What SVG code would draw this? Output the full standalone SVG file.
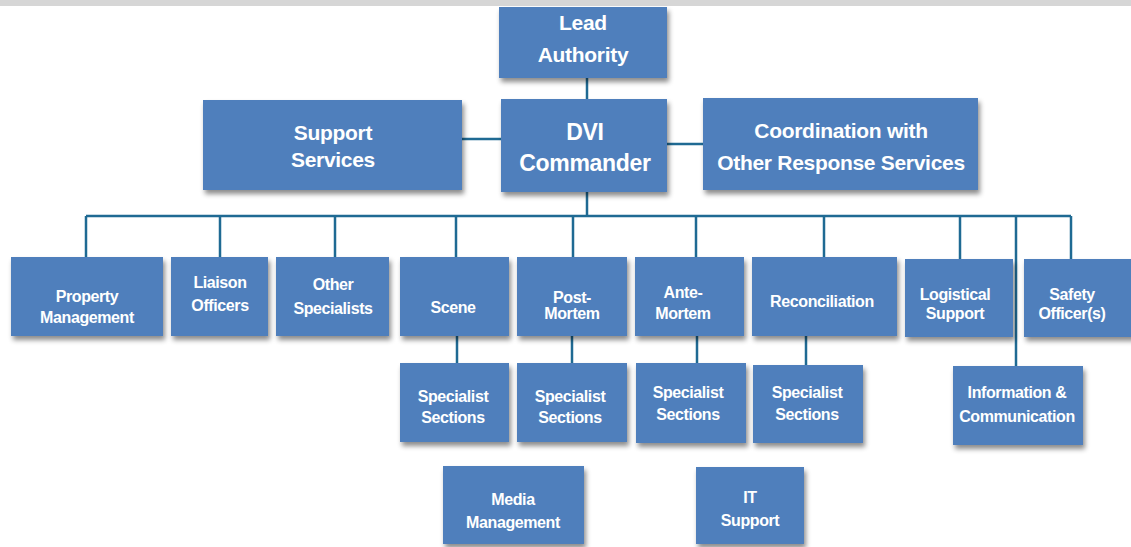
<svg xmlns="http://www.w3.org/2000/svg" width="1131" height="547" viewBox="0 0 1131 547">
  <defs>
    <filter id="shadow" x="-10%" y="-10%" width="130%" height="140%">
      <feDropShadow dx="2" dy="4" stdDeviation="2.5" flood-color="#000" flood-opacity="0.45"/>
    </filter>
    <style>
      .box { fill: #4f7fbc; filter: url(#shadow); }
      .link { stroke: #1f6a93; stroke-width: 2.5; fill: none; }
      text { font-family: "Liberation Sans", Arial, sans-serif; font-weight: bold; fill: #ffffff; text-anchor: middle; }
      .big { font-size: 21px; letter-spacing: -0.3px; }
      .mid { font-size: 16px; letter-spacing: -0.4px; }
    </style>
  </defs>

  <rect x="0" y="0" width="1131" height="547" fill="#ffffff"/>
  <rect x="0" y="0" width="1131" height="6" fill="#d6d6d6"/>

  <!-- connectors -->
  <g id="connectors" class="link">
    <line x1="587" y1="78" x2="587" y2="99"/>
    <line x1="462" y1="139" x2="501" y2="139"/>
    <line x1="667" y1="144" x2="703" y2="144"/>
    <line x1="587" y1="192" x2="587" y2="216"/>
    <line x1="86" y1="216" x2="1071" y2="216"/>
    <line x1="86" y1="216" x2="86" y2="257"/>
    <line x1="220" y1="216" x2="220" y2="257"/>
    <line x1="335" y1="216" x2="335" y2="257"/>
    <line x1="456" y1="216" x2="456" y2="257"/>
    <line x1="573" y1="216" x2="573" y2="257"/>
    <line x1="696" y1="216" x2="696" y2="257"/>
    <line x1="824" y1="216" x2="824" y2="257"/>
    <line x1="960" y1="216" x2="960" y2="259"/>
    <line x1="1016" y1="216" x2="1016" y2="366"/>
    <line x1="1071" y1="216" x2="1071" y2="259"/>
    <line x1="457" y1="336" x2="457" y2="363"/>
    <line x1="572" y1="336" x2="572" y2="363"/>
    <line x1="697" y1="336" x2="697" y2="363"/>
    <line x1="806" y1="336" x2="806" y2="365"/>
  </g>

  <!-- top level -->
  <g id="lead-authority">
    <rect class="box" x="499" y="7" width="168" height="71"/>
    <text class="big" x="583" y="30">Lead</text>
    <text class="big" x="583" y="62">Authority</text>
  </g>
  <g id="dvi-commander">
    <rect class="box" x="501" y="99" width="166" height="93"/>
    <text class="big" x="585" y="140" style="font-size:23px">DVI</text>
    <text class="big" x="585" y="171" style="font-size:23px">Commander</text>
  </g>
  <g id="support-services">
    <rect class="box" x="203" y="100" width="259" height="90"/>
    <text class="big" x="333" y="140">Support</text>
    <text class="big" x="333" y="167">Services</text>
  </g>
  <g id="coordination">
    <rect class="box" x="703" y="98" width="275" height="92"/>
    <text class="big" x="841" y="138">Coordination with</text>
    <text class="big" x="841" y="170">Other Response Services</text>
  </g>

  <!-- functional units -->
  <g id="property-management">
    <rect class="box" x="11" y="257" width="152" height="79"/>
    <text class="mid" x="87" y="302">Property</text>
    <text class="mid" x="87" y="323">Management</text>
  </g>
  <g id="liaison-officers">
    <rect class="box" x="171" y="257" width="97" height="79"/>
    <text class="mid" x="220" y="288">Liaison</text>
    <text class="mid" x="220" y="311">Officers</text>
  </g>
  <g id="other-specialists">
    <rect class="box" x="276" y="257" width="113" height="79"/>
    <text class="mid" x="333" y="290">Other</text>
    <text class="mid" x="333" y="314">Specialists</text>
  </g>
  <g id="scene">
    <rect class="box" x="400" y="257" width="109" height="79"/>
    <text class="mid" x="453" y="313">Scene</text>
  </g>
  <g id="post-mortem">
    <rect class="box" x="517" y="257" width="110" height="79"/>
    <text class="mid" x="572" y="303">Post-</text>
    <text class="mid" x="572" y="319">Mortem</text>
  </g>
  <g id="ante-mortem">
    <rect class="box" x="635" y="257" width="109" height="79"/>
    <text class="mid" x="683" y="298">Ante-</text>
    <text class="mid" x="683" y="319">Mortem</text>
  </g>
  <g id="reconciliation">
    <rect class="box" x="752" y="257" width="145" height="79"/>
    <text class="mid" x="822" y="307">Reconciliation</text>
  </g>
  <g id="logistical-support">
    <rect class="box" x="905" y="259" width="108" height="78"/>
    <text class="mid" x="955" y="300">Logistical</text>
    <text class="mid" x="955" y="319">Support</text>
  </g>
  <g id="safety-officers">
    <rect class="box" x="1024" y="259" width="110" height="78"/>
    <text class="mid" x="1072" y="300">Safety</text>
    <text class="mid" x="1072" y="319">Officer(s)</text>
  </g>

  <!-- sub units -->
  <g id="scene-specialist-sections">
    <rect class="box" x="400" y="363" width="109" height="79"/>
    <text class="mid" x="453" y="402">Specialist</text>
    <text class="mid" x="453" y="423">Sections</text>
  </g>
  <g id="post-mortem-specialist-sections">
    <rect class="box" x="517" y="363" width="110" height="79"/>
    <text class="mid" x="570" y="402">Specialist</text>
    <text class="mid" x="570" y="423">Sections</text>
  </g>
  <g id="ante-mortem-specialist-sections">
    <rect class="box" x="636" y="363" width="110" height="80"/>
    <text class="mid" x="688" y="398">Specialist</text>
    <text class="mid" x="688" y="420">Sections</text>
  </g>
  <g id="reconciliation-specialist-sections">
    <rect class="box" x="753" y="365" width="110" height="78"/>
    <text class="mid" x="807" y="398">Specialist</text>
    <text class="mid" x="807" y="420">Sections</text>
  </g>
  <g id="information-communication">
    <rect class="box" x="953" y="366" width="130" height="79"/>
    <text class="mid" x="1017" y="398">Information &amp;</text>
    <text class="mid" x="1017" y="422">Communication</text>
  </g>
  <g id="media-management">
    <rect class="box" x="443" y="466" width="141" height="78"/>
    <text class="mid" x="513" y="505">Media</text>
    <text class="mid" x="513" y="528">Management</text>
  </g>
  <g id="it-support">
    <rect class="box" x="696" y="467" width="108" height="77"/>
    <text class="mid" x="750" y="503">IT</text>
    <text class="mid" x="750" y="526">Support</text>
  </g>
</svg>
